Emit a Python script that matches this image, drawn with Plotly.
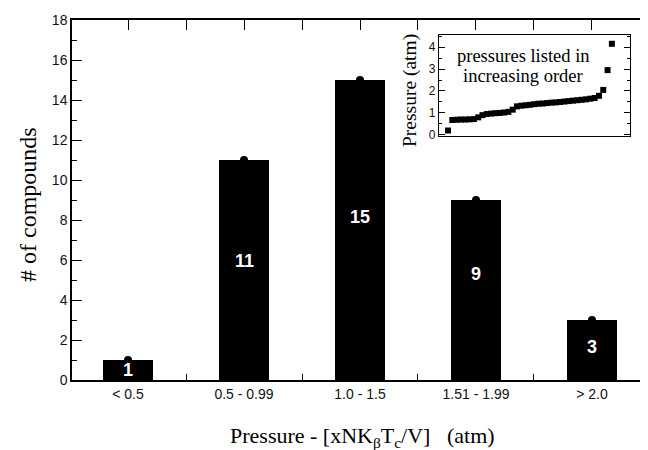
import plotly.graph_objects as go

# ---- data ----
categories = ["< 0.5", "0.5 - 0.99", "1.0 - 1.5", "1.51 - 1.99", "> 2.0"]
counts = [1, 11, 15, 9, 3]
count_labels = ["1", "11", "15", "9", "3"]
label_y = [0.5, 5.95, 8.15, 5.3, 1.65]  # annotation heights inside bars

inset_rank = list(range(1, 40))
inset_pressures = [0.2,
                   0.68, 0.69, 0.7, 0.7, 0.71, 0.72, 0.8, 0.9, 0.95, 0.97, 0.99,
                   1.0, 1.02, 1.05, 1.15, 1.3, 1.33, 1.35, 1.37, 1.4, 1.42, 1.43, 1.45, 1.47, 1.48, 1.5,
                   1.52, 1.54, 1.56, 1.58, 1.6, 1.62, 1.65, 1.68, 1.78,
                   2.05, 2.95, 4.15]

y_major_ticks = [0, 2, 4, 6, 8, 10, 12, 14, 16, 18]
inset_y_ticks = [0, 1, 2, 3, 4]

SERIF = "Liberation Serif, Times New Roman, serif"
SANS = "Liberation Sans, Arial, sans-serif"

xpos = list(range(len(categories)))
xr = [-0.483, 4.483]

# page body has an 8px default margin: figure is 640x442 placed at (8, 8)
PX0, PY0, PW, PH = 72, 20, 576, 360  # plot area in window pixels


def px(xw):
    return (xw - PX0) / PW


def py(yw):
    return (PY0 + PH - yw) / PH


fig = go.Figure()

fig.add_trace(go.Bar(
    x=xpos, y=counts, width=0.43,
    marker=dict(color="black", line=dict(width=0)),
    showlegend=False, hoverinfo="skip"))

fig.add_trace(go.Scatter(
    x=xpos, y=counts, mode="markers",
    marker=dict(symbol="circle", size=8, color="black"),
    showlegend=False, hoverinfo="skip"))

# invisible traces to activate helper axes
fig.add_trace(go.Scatter(x=[xpos[0]], y=[counts[0]], xaxis="x2", yaxis="y2",
                         mode="markers", marker=dict(opacity=0), showlegend=False, hoverinfo="skip"))
fig.add_trace(go.Scatter(x=[xpos[0]], y=[counts[0]], xaxis="x4", yaxis="y",
                         mode="markers", marker=dict(opacity=0), showlegend=False, hoverinfo="skip"))

# inset
fig.add_trace(go.Scatter(
    x=inset_rank, y=inset_pressures, xaxis="x3", yaxis="y3", mode="markers",
    marker=dict(symbol="square", size=6, color="black", line=dict(width=0)),
    showlegend=False, hoverinfo="skip"))

annotations = []
for i, (t, ly) in enumerate(zip(count_labels, label_y)):
    annotations.append(dict(x=xpos[i], y=ly, xref="x", yref="y", text="<b>" + t + "</b>",
                            showarrow=False,
                            font=dict(family=SANS, size=18, color="white"),
                            xanchor="center", yanchor="middle"))
# inset note (two lines)
annotations.append(dict(x=px(523), y=py(56), xref="paper", yref="paper",
                        text="pressures listed in", showarrow=False,
                        font=dict(family=SERIF, size=18.5, color="black"),
                        xanchor="center", yanchor="middle"))
annotations.append(dict(x=px(523), y=py(76), xref="paper", yref="paper",
                        text="increasing order", showarrow=False,
                        font=dict(family=SERIF, size=18.5, color="black"),
                        xanchor="center", yanchor="middle"))
# axis titles
annotations.append(dict(x=px(362), y=py(437), xref="paper", yref="paper",
                        text="Pressure - [xNK<sub>β</sub>T<sub>c</sub>/V]\u00a0\u00a0\u00a0(atm)",
                        showarrow=False, font=dict(family=SERIF, size=22, color="black"),
                        xanchor="center", yanchor="middle"))
annotations.append(dict(x=px(28), y=py(205), xref="paper", yref="paper",
                        text="# of compounds", textangle=-90,
                        showarrow=False, font=dict(family=SERIF, size=24, color="black"),
                        xanchor="center", yanchor="middle"))
annotations.append(dict(x=px(410), y=py(91), xref="paper", yref="paper",
                        text="Pressure (atm)", textangle=-90,
                        showarrow=False, font=dict(family=SERIF, size=19.5, color="black"),
                        xanchor="center", yanchor="middle"))

fig.update_layout(
    width=640, height=442,
    margin=dict(l=PX0 - 8, r=0, t=PY0 - 8, b=442 - (PY0 + PH - 8), autoexpand=False),
    paper_bgcolor="white", plot_bgcolor="white",
    bargap=0,
    annotations=annotations,
    xaxis=dict(
        domain=[0, 1], range=xr, tickmode="array", tickvals=xpos, ticktext=categories,
        ticks="", showline=True, linecolor="black", linewidth=1.5, mirror=True,
        showgrid=False, zeroline=False, automargin=False,
        tickfont=dict(family=SANS, size=14, color="#111"),
    ),
    xaxis2=dict(
        overlaying="x", side="top", anchor="y", range=xr, tick0=0, dtick=0.5,
        ticks="inside", ticklen=10, tickwidth=1, tickcolor="black", automargin=False,
        showticklabels=False, showline=False, showgrid=False, zeroline=False,
    ),
    xaxis4=dict(
        overlaying="x", side="bottom", anchor="y", range=xr, tick0=0.5, dtick=1,
        ticks="inside", ticklen=6, tickwidth=1, tickcolor="black", automargin=False,
        showticklabels=False, showline=False, showgrid=False, zeroline=False,
    ),
    yaxis=dict(
        domain=[0, 1], range=[0, 18], tickmode="array", tickvals=y_major_ticks,
        ticks="inside", ticklen=10, tickwidth=1, tickcolor="black",
        minor=dict(ticks="inside", ticklen=5, dtick=1, tick0=0, tickcolor="black", tickwidth=1),
        showline=True, linecolor="black", linewidth=1.5, automargin=False,
        showgrid=False, zeroline=False,
        tickfont=dict(family=SANS, size=14, color="#111"),
    ),
    yaxis2=dict(
        overlaying="y", side="right", anchor="x", range=[0, 18], tickmode="array",
        tickvals=y_major_ticks, ticks="inside", ticklen=8, tickwidth=1, tickcolor="black",
        minor=dict(ticks="inside", ticklen=3, dtick=1, tick0=0, tickcolor="black", tickwidth=1),
        showticklabels=False, showline=False, showgrid=False, zeroline=False, automargin=False,
    ),
    xaxis3=dict(
        domain=[px(439), px(630)], anchor="y3", range=[-1.09, 43.2],
        showticklabels=False, ticks="", showline=True, mirror=True, automargin=False,
        linecolor="black", linewidth=1.2, showgrid=False, zeroline=False,
    ),
    yaxis3=dict(
        domain=[py(136), py(35)], anchor="x3", range=[-0.05, 4.55],
        tickmode="array", tickvals=inset_y_ticks,
        ticks="inside", ticklen=6, tickwidth=1, tickcolor="black",
        minor=dict(ticks="inside", ticklen=3, dtick=0.5, tick0=0, tickcolor="black", tickwidth=1),
        showline=True, mirror="ticks", linecolor="black", linewidth=1.2, automargin=False,
        showgrid=False, zeroline=False,
        tickfont=dict(family=SANS, size=12, color="#111"),
    ),
)

fig.write_html("out.html")
